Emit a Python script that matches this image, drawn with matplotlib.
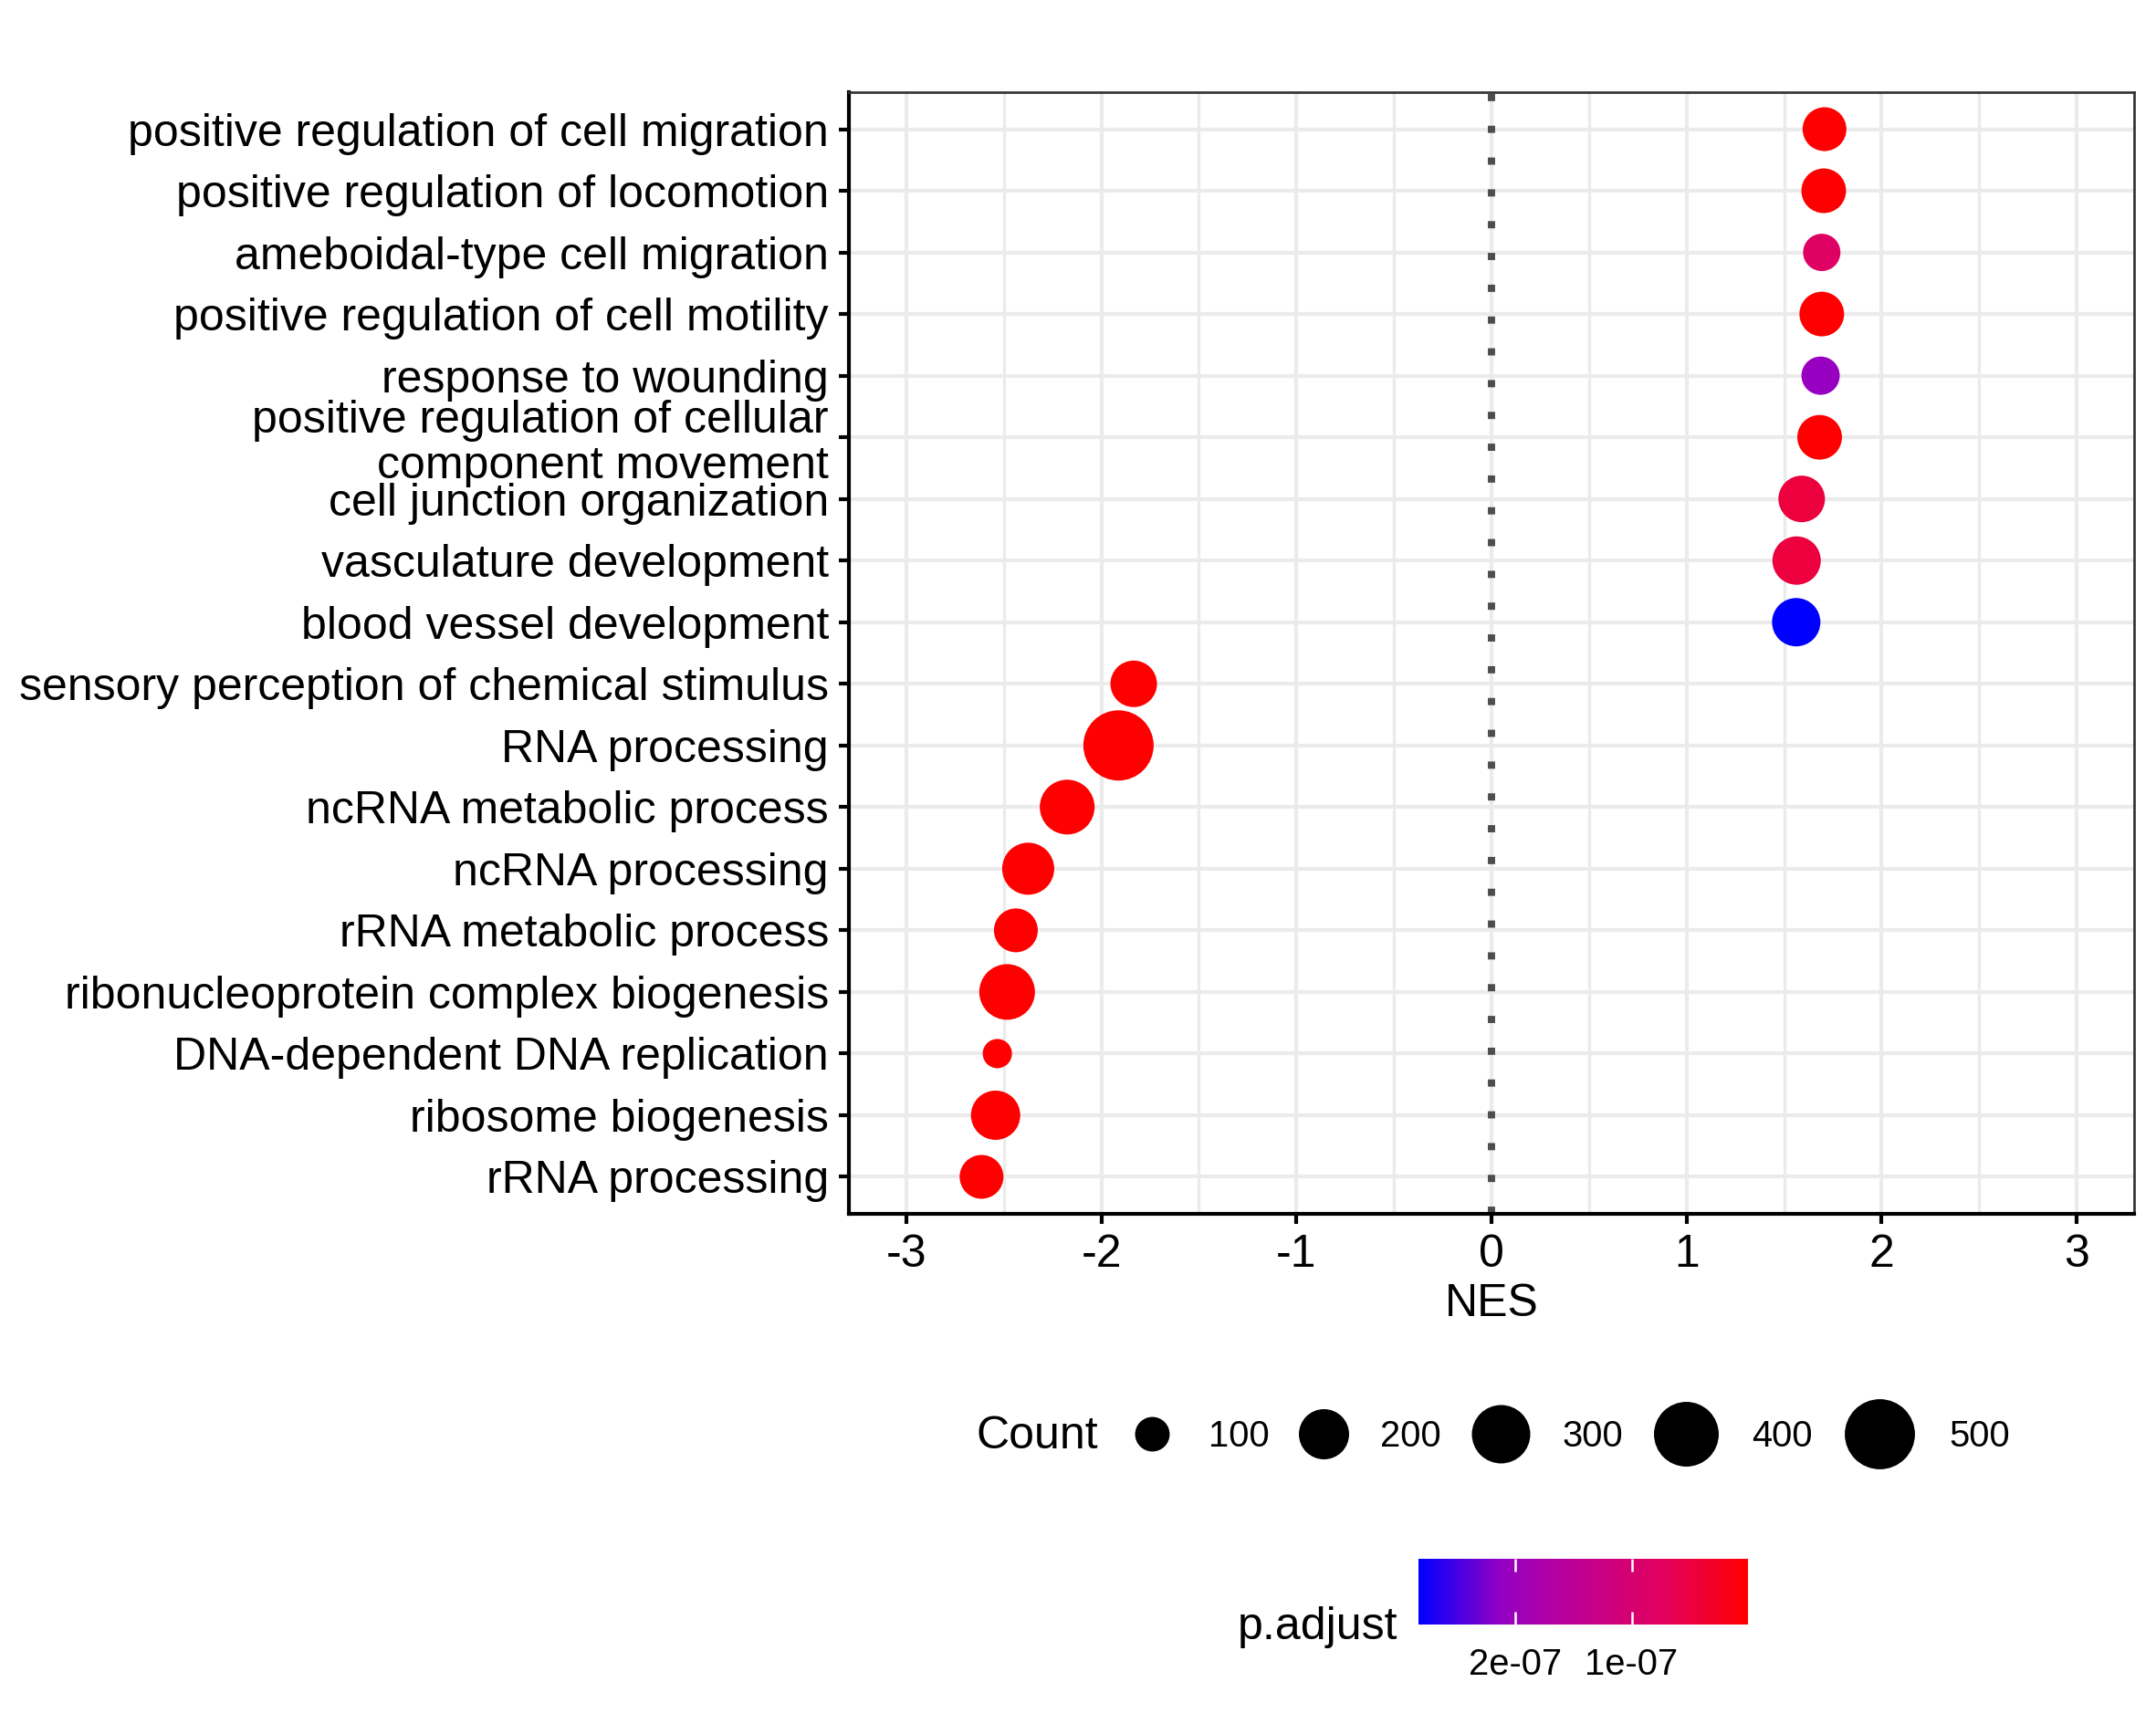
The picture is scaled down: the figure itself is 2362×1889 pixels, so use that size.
import numpy as np
import matplotlib
matplotlib.use('Agg')
import matplotlib.pyplot as plt
from matplotlib.colors import LinearSegmentedColormap, Normalize
from matplotlib.lines import Line2D

plt.rcParams['font.family'] = ['Liberation Sans', 'DejaVu Sans']
plt.rcParams['axes.unicode_minus'] = False

# GSEA terms, top to bottom as drawn
terms = [
    "positive regulation of cell migration",
    "positive regulation of locomotion",
    "ameboidal-type cell migration",
    "positive regulation of cell motility",
    "response to wounding",
    "positive regulation of cellular\ncomponent movement",
    "cell junction organization",
    "vasculature development",
    "blood vessel development",
    "sensory perception of chemical stimulus",
    "RNA processing",
    "ncRNA metabolic process",
    "ncRNA processing",
    "rRNA metabolic process",
    "ribonucleoprotein complex biogenesis",
    "DNA-dependent DNA replication",
    "ribosome biogenesis",
    "rRNA processing",
]
nes = [1.707, 1.703, 1.693, 1.693, 1.687, 1.682, 1.590, 1.564, 1.562,
       -1.834, -1.912, -2.175, -2.375, -2.438, -2.483, -2.533, -2.542, -2.614]
counts = [145, 151, 109, 151, 113, 151, 166, 182, 182,
          166, 503, 252, 220, 145, 263, 93, 191, 145]
padj = [2e-10, 3e-10, 8.2e-8, 4e-10, 2.07e-7, 5e-10, 4.8e-8, 4.9e-8, 2.83e-7,
        1e-10, 1e-10, 1e-10, 1e-10, 1e-10, 1e-10, 1e-10, 1e-10, 1e-10]

legend_counts = [100, 200, 300, 400, 500]
cbar_ticks = [1e-7, 2e-7]
cbar_ticklabels = ["1e-07", "2e-07"]

DPI = 300
W, H = 2362, 1889
fig = plt.figure(figsize=(W / DPI, H / DPI), dpi=DPI)
ax = fig.add_axes([930 / W, 1 - 1330 / H, (2338 - 930) / W, (1330 - 101) / H])

# ggplot-like area scale: diameter grows with sqrt of rescaled count
D_MIN, D_MAX = 32, 77  # px
lo, hi = min(counts), max(counts)


def diam_px(c):
    c = np.asarray(c, dtype=float)
    return D_MIN + (D_MAX - D_MIN) * np.sqrt(np.clip((c - lo) / (hi - lo), 0, 1))


def px_to_pt(px):
    return px * 72 / DPI


cmap = LinearSegmentedColormap.from_list(
    "padj", [(0, "#FF0000"), (0.25, "#E3005B"), (0.5, "#C2008F"),
             (0.75, "#9400C4"), (1, "#0000FF")], N=300)
norm = Normalize(vmin=min(padj), vmax=max(padj))

y = np.arange(len(terms))[::-1] + 1

ax.axvline(0, color="#4D4D4D", lw=1.9, ls=(0, (1, 3.4)), zorder=2,
           dash_capstyle="butt")
sc = ax.scatter(nes, y, s=px_to_pt(diam_px(counts)) ** 2, c=padj, cmap=cmap,
                norm=norm, edgecolors="none", zorder=3)

ax.set_xlim(-3.294, 3.294)
ax.set_ylim(0.4, len(terms) + 0.6)
ax.set_xticks(range(-3, 4))
ax.set_xticks(np.arange(-2.5, 3.0, 1.0), minor=True)
ax.set_yticks(y)
ax.set_yticklabels(terms)
for lab in ax.get_yticklabels():
    lab.set_linespacing(1.1)

ax.set_axisbelow(True)
ax.grid(which="major", color="#EBEBEB", lw=1.0)
ax.grid(which="minor", axis="x", color="#EBEBEB", lw=0.8)
ax.tick_params(which="major", length=2.7, width=1.0, color="black",
               labelsize=12, pad=2.6, labelcolor="black")
ax.tick_params(which="minor", length=0)
ax.set_xlabel("NES", fontsize=12, labelpad=2.0)

for side in ["left", "bottom"]:
    ax.spines[side].set_color("black")
    ax.spines[side].set_linewidth(1.0)
for side in ["top", "right"]:
    ax.spines[side].set_color("#333333")
    ax.spines[side].set_linewidth(0.65)

# Count legend: one key per entry, key width grows with the point like ggplot
leg_y = 1 - 1574 / H
fig.text(1069 / W, leg_y, "Count", fontsize=12, ha="left", va="center")
leg_fs = 9.6
fs_px = leg_fs / 72 * DPI
key_w = [max(72.0, 1.3 * float(diam_px(c))) for c in legend_counts]
cx = 1262.0
for i, c in enumerate(legend_counts):
    if i > 0:
        cx += (key_w[i - 1] + key_w[i]) / 2 + 116
    h = Line2D([], [], marker="o", ls="none", color="black",
               markersize=px_to_pt(float(diam_px(c))), markeredgewidth=0)
    fig.legend([h], [str(c)], loc="center left",
               bbox_to_anchor=((cx - fs_px) / W, leg_y), frameon=False,
               fontsize=leg_fs, handlelength=2.0,
               handletextpad=(key_w[i] / 2 + 26 - fs_px) / fs_px,
               borderpad=0, borderaxespad=0)

# p.adjust colourbar
cax = fig.add_axes([1554 / W, 1 - 1780 / H, (1915 - 1554) / W, 72 / H])
cb = fig.colorbar(sc, cax=cax, orientation="horizontal")
cb.outline.set_visible(False)
cax.invert_xaxis()
cb.set_ticks(cbar_ticks)
cb.set_ticklabels(cbar_ticklabels)
cax.tick_params(axis="x", direction="in", length=3.4, width=0.6, color="white",
                top=True, bottom=True, labelsize=9.6, pad=6)
cax.minorticks_off()
fig.text(1356 / W, 1 - 1796 / H, "p.adjust", fontsize=12, ha="left",
         va="baseline")

fig.savefig("out.png", dpi=DPI)
